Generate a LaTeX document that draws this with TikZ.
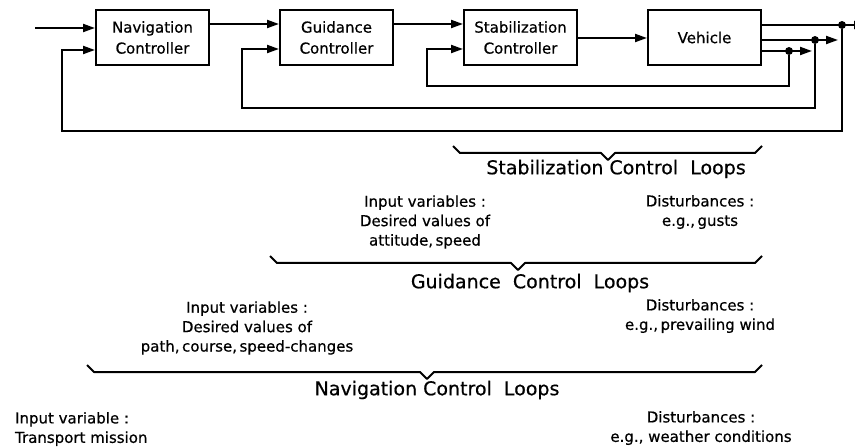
\documentclass[tikz,border=0pt]{standalone}
\usepackage{fontspec}
\setmainfont{DejaVu Sans}[FakeBold=0.6]
\usetikzlibrary{arrows.meta, positioning}

\begin{document}
\begin{tikzpicture}[x=0.5pt, y=-0.5pt,
    block/.style={draw, line width=1pt, minimum width=56.5pt, minimum height=27.5pt, align=center, font=\fontsize{7.5}{10.5}\selectfont},
    sig/.style={line width=1pt, -{Triangle[length=6pt,width=4pt]}},
    dot/.style={fill, circle, inner sep=1.4pt},
    loopbrace/.style={line width=1pt, line join=round},
    note/.style={align=center, font=\fontsize{7.5}{9.7}\selectfont},
    looplabel/.style={font=\fontsize{9.5}{11}\selectfont}]

    \useasboundingbox (0,0) rectangle (855,448);

    % blocks
    \node[block] (nav) at (152.5,37.5) {Navigation\\Controller};
    \node[block, right=34.5pt of nav] (guid) {Guidance\\Controller};
    \node[block, right=34.5pt of guid] (stab) {Stabilization\\Controller};
    \node[block, right=34.5pt of stab] (veh) {Vehicle};

    % branch points and free ends
    \node[dot] (o3) at (842,25) {};
    \node[dot] (o2) at (815,40) {};
    \node[dot] (o1) at (789,51) {};
    \coordinate (e3) at (866,25);
    \coordinate (e2) at (838,40);
    \coordinate (e1) at (812,51);
    \coordinate (in) at (35,28);

    % forward path
    \draw[sig] (in) -- (nav.west |- in);
    \draw[sig] (nav.east |- 0,24) -- (guid.west |- 0,24);
    \draw[sig] (guid.east |- 0,24) -- (stab.west |- 0,24);
    \draw[sig] (stab.east |- 0,38) -- (veh.west |- 0,38);
    \draw[sig] (veh.east |- o3) -- (e3);
    \draw[sig] (veh.east |- o2) -- (e2);
    \draw[sig] (veh.east |- o1) -- (e1);

    % feedback loops
    \draw[sig] (o1) |- (427,86) |- (stab.west |- 0,49);
    \draw[sig] (o2) |- (242,108) |- (guid.west |- 0,49);
    \draw[sig] (o3) |- (62,131) |- (nav.west |- 0,50);

    % braces
    \draw[loopbrace] (453,146) -- (460,153) -- (601,153) -- (608,160) -- (615,153) -- (755,153) -- (762,146);
    \draw[loopbrace] (270,256) -- (277,263) -- (511,263) -- (518,270) -- (525,263) -- (755,263) -- (762,256);
    \draw[loopbrace] (87,365) -- (94,372) -- (420,372) -- (427,379) -- (434,372) -- (755,372) -- (762,365);

    % texts
    \node[looplabel] (stabloops) at (616,169) {Stabilization Control\ \ Loops};
    \node[note] (stabin) at (425,222) {Input variables :\\Desired values of\\attitude,\,speed};
    \node[note] (stabdist) at (700,212) {Disturbances :\\e.g.,\,gusts};

    \node[looplabel] (guidloops) at (530,283) {Guidance\ \ Control\ \ Loops};
    \node[note] (guidin) at (247,328) {Input variables :\\Desired values of\\path,\,course,\,speed-changes};
    \node[note] (guiddist) at (700,316) {Disturbances :\\e.g.,\,prevailing wind};

    \node[looplabel] (navloops) at (437,390) {Navigation Control\ \ Loops};
    \node[note, anchor=west, align=left] (navin) at (8,429) {Input variable :\\Transport mission};
    \node[note] (navdist) at (701,428) {Disturbances :\\e.g., weather conditions};
\end{tikzpicture}
\end{document}
